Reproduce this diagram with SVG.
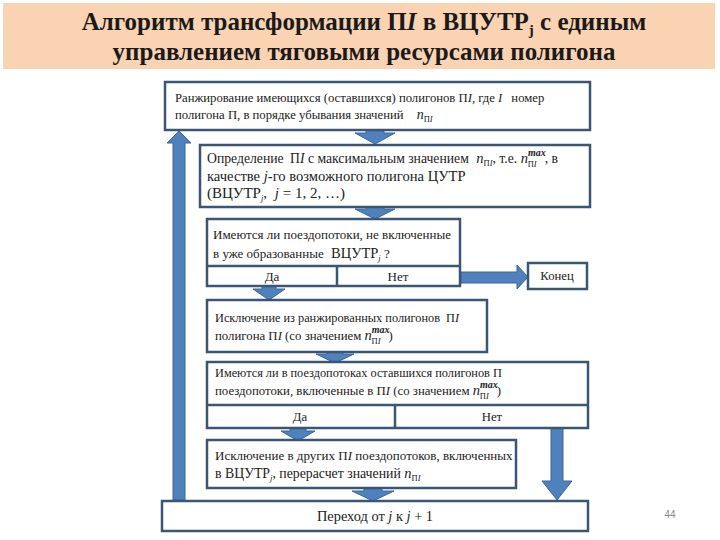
<svg xmlns="http://www.w3.org/2000/svg" width="720" height="540" viewBox="0 0 720 540">
<style>
.box{fill:#fff;stroke:#3B5575;stroke-width:2.5}
.ln{stroke:#3B5575;stroke-width:2.5;fill:none}
.arr{fill:#4F81BD;stroke:#3A6699;stroke-width:1}
.t{font-family:"Liberation Serif","Times New Roman",serif;fill:#222}
.c{text-anchor:middle}
.i{font-style:italic}
.s{font-size:8.5px}
.m{font-style:italic;font-weight:bold}
.title{font-family:"Liberation Serif","Times New Roman",serif;font-size:25px;font-weight:bold;fill:#1a1a1a;text-anchor:middle}
</style>
<rect x="3" y="3" width="712" height="66" fill="#FAD3B3"/>
<text class="title" x="364" y="30">Алгоритм трансформации П<tspan font-style="italic">I</tspan> в ВЦУТР<tspan font-size="15" dy="5">j</tspan><tspan dy="-5"> с единым</tspan></text>
<text class="title" x="364" y="60">управлением тяговыми ресурсами полигона</text>

<g id="connectors">
  <polygon class="arr" points="173,500 173,143 167,143 179,131 191,143 185,143 185,500"/>
  <polygon class="arr" points="366,128 366,133 355,133 375,144 395,133 384,133 384,128"/>
  <polygon class="arr" points="366,205 366,209 355,209 375,219 395,209 384,209 384,205"/>
  <polygon class="arr" points="461,272 517,272 517,265 528,277 517,289 517,283 461,283"/>
  <polygon class="arr" points="262,285 262,289 253,289 269,300 285,289 276,289 276,285"/>
  <polygon class="arr" points="327,350 327,354 316,354 335,363 354,354 343,354 343,350"/>
  <polygon class="arr" points="290,427 290,431 281,431 298,441 315,431 306,431 306,427"/>
  <polygon class="arr" points="551,428 551,481 542,481 557,500 572,481 563,481 563,428"/>
  <polygon class="arr" points="364,487 364,491 352,491 373,501 394,491 382,491 382,487"/>
</g>

<g font-size="12.7">
<g id="n1">
  <rect class="box" x="165" y="82" width="425" height="48"/>
  <text class="t" x="175" y="102">Ранжирование имеющихся (оставшихся) полигонов П<tspan class="i">I</tspan>, где <tspan class="i">I</tspan><tspan dx="9">номер</tspan></text>
  <text class="t" x="175" y="119">полигона П, в порядке убывания значений <tspan class="i" dx="10" font-size="14">n</tspan><tspan class="s" dy="3">П<tspan class="i">I</tspan></tspan></text>
</g>
<g id="n2">
  <rect class="box" x="200" y="145" width="390" height="62"/>
  <text class="t" x="207" y="163" font-size="13.7">Определение <tspan dx="3">П</tspan><tspan class="i">I</tspan> с максимальным значением <tspan class="i" dx="4" font-size="14.5">n</tspan><tspan class="s" dy="3">П<tspan class="i">I</tspan></tspan><tspan dy="-3">, т.е. </tspan><tspan class="i" font-size="14.5">n</tspan><tspan class="m" font-size="10" dy="-7">max</tspan><tspan class="s" dx="-18" dy="10.5">П<tspan class="i">I</tspan></tspan><tspan dx="8" dy="-3.5">, в</tspan></text>
  <text class="t" x="207" y="181" font-size="14.6">качестве <tspan class="i">j</tspan>-го возможного полигона ЦУТР</text>
  <text class="t" x="207" y="198" font-size="15">(ВЦУТР<tspan class="s i" dy="3">j</tspan><tspan dy="-3">, </tspan><tspan class="i" dx="4">j</tspan> = 1, 2, …)</text>
</g>
<g id="n3">
  <rect class="box" x="207" y="219" width="253" height="67"/>
  <line class="ln" x1="207" y1="266" x2="460" y2="266"/>
  <line class="ln" x1="337" y1="266" x2="337" y2="286"/>
  <text class="t" x="213" y="239" font-size="13">Имеются ли поездопотоки, не включенные</text>
  <text class="t" x="213" y="258" font-size="13">в уже образованные</text>
  <text class="t" x="331" y="258" font-size="14.5">ВЦУТР<tspan class="s i" dy="3">j</tspan><tspan dy="-3" font-size="13"> ?</tspan></text>
  <text class="t c" x="272" y="281" font-size="13">Да</text>
  <text class="t c" x="398" y="281" font-size="13">Нет</text>
</g>
<g id="n4">
  <rect class="box" x="528" y="263" width="59" height="26"/>
  <text class="t c" x="557" y="280">Конец</text>
</g>
<g id="n5">
  <rect class="box" x="207" y="300" width="280" height="52"/>
  <text class="t" x="215" y="322" font-size="12.3">Исключение из ранжированных полигонов <tspan dx="3">П</tspan><tspan class="i">I</tspan></text>
  <text class="t" x="215" y="340" font-size="12.8">полигона П<tspan class="i">I</tspan> (со значением <tspan class="i" font-size="14.5">n</tspan><tspan class="m" font-size="10" dy="-7">max</tspan><tspan class="s" dx="-18" dy="10.5">П<tspan class="i">I</tspan></tspan><tspan dx="8" dy="-3.5">)</tspan></text>
</g>
<g id="n6">
  <rect class="box" x="207" y="362" width="381" height="66"/>
  <line class="ln" x1="207" y1="405" x2="588" y2="405"/>
  <line class="ln" x1="395" y1="405" x2="395" y2="428"/>
  <text class="t" x="215" y="377" font-size="12.3">Имеются ли в поездопотоках оставшихся полигонов П</text>
  <text class="t" x="215" y="395" font-size="12.8">поездопотоки, включенные в П<tspan class="i">I</tspan> (со значением <tspan class="i" font-size="14.5">n</tspan><tspan class="m" font-size="10" dy="-7">max</tspan><tspan class="s" dx="-18" dy="10.5">П<tspan class="i">I</tspan></tspan><tspan dx="8" dy="-3.5">)</tspan></text>
  <text class="t c" x="300" y="421">Да</text>
  <text class="t c" x="492" y="421">Нет</text>
</g>
<g id="n7">
  <rect class="box" x="207" y="440" width="309" height="48"/>
  <text class="t" x="215" y="460" font-size="13">Исключение в других П<tspan class="i">I</tspan> поездопотоков, включенных</text>
  <text class="t" x="215" y="478" font-size="13.8">в ВЦУТР<tspan class="s i" dy="3">j</tspan><tspan dy="-3">, перерасчет значений </tspan><tspan class="i" font-size="14.5">n</tspan><tspan class="s" dy="3">П<tspan class="i">I</tspan></tspan></text>
</g>
<g id="n8">
  <rect class="box" x="162" y="501" width="426" height="30"/>
  <text class="t c" x="375" y="521" font-size="14.4">Переход от <tspan class="i">j</tspan> к <tspan class="i">j</tspan> + 1</text>
</g>
</g>
<text x="670" y="518" font-family="Liberation Sans, sans-serif" font-size="10" fill="#888" text-anchor="middle">44</text>
</svg>
